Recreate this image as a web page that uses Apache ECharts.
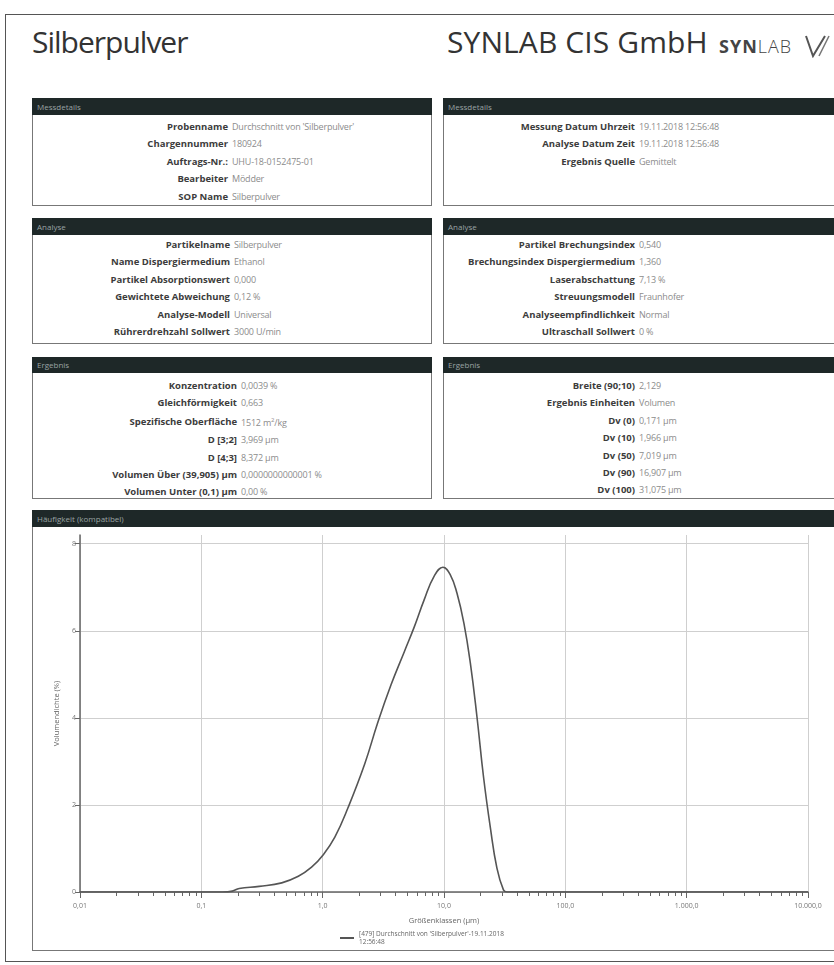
<!DOCTYPE html>
<html>
<head>
<meta charset="utf-8">
<script src="https://cdn.jsdelivr.net/npm/echarts@6/dist/echarts.min.js"></script>
<style>
  html, body { margin: 0; padding: 0; background: #fff; }
  body { width: 834px; height: 965px; position: relative; overflow: hidden; font-family: "Open Sans", "Noto Sans", sans-serif; }
  .frame { position: absolute; left: 5px; top: 14px; width: 900px; height: 946px; border: 1.5px solid #555; }
  .title { position: absolute; top: 21px; font-size: 30px; color: #333; }
  .logo { position: absolute; left: 719px; top: 34px; font-size: 18px; color: #444; letter-spacing: 1px; }
  .logo b { font-weight: 700; }
  .logo span { font-weight: 300; }
  .logo svg { position: absolute; left: 84px; top: 0px; }
  .panel { position: absolute; }
  .head { height: 17px; background: #1e2828; color: #9aa3a3; font-size: 8px; line-height: 17px; padding-left: 5px; }
  .body { position: absolute; left: 0; right: 0; bottom: 0; border: 1px solid #777; border-top: none; background: #fff; }
  table { border-collapse: collapse; font-size: 9.5px; margin-top: 3px; }
  td { padding: 0; height: 17.4px; line-height: 17.4px; white-space: nowrap; }
  td.l { text-align: right; font-weight: 700; color: #3c3c3c; padding-right: 4px; }
  td.v { color: #8c8c8c; font-size: 9px; letter-spacing: -0.2px; }
  #chart { position: absolute; left: 33px; top: 528px; width: 810px; height: 422px; }
</style>
</head>
<body>
<div class="frame"></div>
<div class="title" style="left:32px;letter-spacing:-1px">Silberpulver</div>
<div class="title" style="left:447px;letter-spacing:0.1px">SYNLAB CIS GmbH</div>
<div class="logo"><b>SYN</b><span>LAB</span>
  <svg width="30" height="24" viewBox="0 0 30 24"><path d="M3 2 L10 22 L22 2" fill="none" stroke="#555" stroke-width="2"/><path d="M16 22 L26 2" fill="none" stroke="#777" stroke-width="1.5"/></svg>
</div>

<div class="panel" style="left:32px;top:98px;width:400px;height:108px">
  <div class="head">Messdetails</div>
  <div class="body" style="top:17px"><table>
    <tr><td class="l" style="width:195px">Probenname</td><td class="v">Durchschnitt von 'Silberpulver'</td></tr>
    <tr><td class="l">Chargennummer</td><td class="v">180924</td></tr>
    <tr><td class="l">Auftrags-Nr.:</td><td class="v">UHU-18-0152475-01</td></tr>
    <tr><td class="l">Bearbeiter</td><td class="v">Mödder</td></tr>
    <tr><td class="l">SOP Name</td><td class="v">Silberpulver</td></tr>
  </table></div>
</div>
<div class="panel" style="left:443px;top:98px;width:400px;height:108px">
  <div class="head">Messdetails</div>
  <div class="body" style="top:17px"><table>
    <tr><td class="l" style="width:191px">Messung Datum Uhrzeit</td><td class="v">19.11.2018 12:56:48</td></tr>
    <tr><td class="l">Analyse Datum Zeit</td><td class="v">19.11.2018 12:56:48</td></tr>
    <tr><td class="l">Ergebnis Quelle</td><td class="v">Gemittelt</td></tr>
  </table></div>
</div>

<div class="panel" style="left:32px;top:218px;width:400px;height:126px">
  <div class="head">Analyse</div>
  <div class="body" style="top:17px"><table style="margin-top:1px">
    <tr><td class="l" style="width:197px">Partikelname</td><td class="v">Silberpulver</td></tr>
    <tr><td class="l">Name Dispergiermedium</td><td class="v">Ethanol</td></tr>
    <tr><td class="l">Partikel Absorptionswert</td><td class="v">0,000</td></tr>
    <tr><td class="l">Gewichtete Abweichung</td><td class="v">0,12 %</td></tr>
    <tr><td class="l">Analyse-Modell</td><td class="v">Universal</td></tr>
    <tr><td class="l">Rührerdrehzahl Sollwert</td><td class="v">3000 U/min</td></tr>
  </table></div>
</div>
<div class="panel" style="left:443px;top:218px;width:400px;height:126px">
  <div class="head">Analyse</div>
  <div class="body" style="top:17px"><table style="margin-top:1px">
    <tr><td class="l" style="width:191px">Partikel Brechungsindex</td><td class="v">0,540</td></tr>
    <tr><td class="l">Brechungsindex Dispergiermedium</td><td class="v">1,360</td></tr>
    <tr><td class="l">Laserabschattung</td><td class="v">7,13 %</td></tr>
    <tr><td class="l">Streuungsmodell</td><td class="v">Fraunhofer</td></tr>
    <tr><td class="l">Analyseempfindlichkeit</td><td class="v">Normal</td></tr>
    <tr><td class="l">Ultraschall Sollwert</td><td class="v">0 %</td></tr>
  </table></div>
</div>

<div class="panel" style="left:32px;top:357px;width:400px;height:142px">
  <div class="head" style="height:16px;line-height:16px">Ergebnis</div>
  <div class="body" style="top:16px"><table style="margin-top:4px">
    <tr><td class="l" style="width:204px">Konzentration</td><td class="v">0,0039 %</td></tr>
    <tr><td class="l">Gleichförmigkeit</td><td class="v">0,663</td></tr>
    <tr><td class="l">Spezifische Oberfläche</td><td class="v">1512 m<sup style="font-size:6px">2</sup>/kg</td></tr>
    <tr><td class="l">D [3;2]</td><td class="v">3,969 µm</td></tr>
    <tr><td class="l">D [4;3]</td><td class="v">8,372 µm</td></tr>
    <tr><td class="l">Volumen Über (39,905) µm</td><td class="v">0,0000000000001 %</td></tr>
    <tr><td class="l">Volumen Unter (0,1) µm</td><td class="v">0,00 %</td></tr>
  </table></div>
</div>
<div class="panel" style="left:443px;top:357px;width:400px;height:142px">
  <div class="head" style="height:16px;line-height:16px">Ergebnis</div>
  <div class="body" style="top:16px"><table style="margin-top:4px">
    <tr><td class="l" style="width:191px">Breite (90;10)</td><td class="v">2,129</td></tr>
    <tr><td class="l">Ergebnis Einheiten</td><td class="v">Volumen</td></tr>
    <tr><td class="l">Dv (0)</td><td class="v">0,171 µm</td></tr>
    <tr><td class="l">Dv (10)</td><td class="v">1,966 µm</td></tr>
    <tr><td class="l">Dv (50)</td><td class="v">7,019 µm</td></tr>
    <tr><td class="l">Dv (90)</td><td class="v">16,907 µm</td></tr>
    <tr><td class="l">Dv (100)</td><td class="v">31,075 µm</td></tr>
  </table></div>
</div>

<div class="panel" style="left:32px;top:510px;width:811px;height:441px">
  <div class="head">Häufigkeit (kompatibel)</div>
  <div class="body" style="top:17px"></div>
</div>
<div id="chart"></div>

<script>
// Partikelgrößen (µm) und Volumendichte (%)
const sizes = [0.01, 0.15, 0.18, 0.205, 0.3, 0.46, 0.63, 0.81, 1.0, 1.26, 1.62, 2.22, 2.85, 3.66, 4.71, 5.69, 6.86, 8.28, 9.8, 11.3, 12.8, 14.6, 16.5, 18.7, 21.2, 24.1, 27.3, 30.9, 33, 10000]
const density = [0, 0, 0.02, 0.08, 0.13, 0.21, 0.36, 0.57, 0.84, 1.26, 1.94, 2.94, 3.9, 4.76, 5.52, 6.09, 6.71, 7.25, 7.46, 7.28, 6.86, 6.17, 5.25, 4.02, 2.63, 1.48, 0.55, 0.05, 0, 0]

const decades = [0.01, 0.1, 1, 10, 100, 1000, 10000]
const xTickLabels = ['0,01', '0,1', '1,0', '10,0', '100,0', '1.000,0', '10.000,0']
const yTicks = [0, 2, 4, 6, 8]
const yTickLabels = ['0', '2', '4', '6', '8']
const seriesName = "[479] Durchschnitt von 'Silberpulver'-19.11.2018\n12:56:48"

// Zwischenstriche 2..9 je Dekade, als log10-Position fuer die Hilfsachse
const minorTicks = []
decades.slice(0, -1).forEach(d => {
  for (let k = 2; k <= 9; k++) minorTicks.push(Math.log10(d * k))
})

const chart = echarts.init(document.getElementById('chart'))

const gridColor = '#cfcfcf'
const axisColor = '#666'
const gridTop = 7
const gridBottom = 58
const plotHeight = 422 - gridTop - gridBottom

const option = {
  animation: false,
  textStyle: { fontFamily: 'Open Sans, Noto Sans, sans-serif' },
  grid: { left: 47, right: 35, top: gridTop, bottom: gridBottom },
  legend: {
    left: 302,
    top: 397,
    icon: 'rect',
    itemWidth: 14,
    itemHeight: 2,
    itemGap: 4,
    textStyle: { fontSize: 6.5, color: '#666', lineHeight: 8 },
    data: [seriesName]
  },
  xAxis: [{
    type: 'log',
    logBase: 10,
    min: 0.01,
    max: 10000,
    position: 'bottom',
    name: 'Größenklassen (µm)',
    nameLocation: 'middle',
    nameGap: 25,
    nameTextStyle: { fontSize: 7.5, color: '#666' },
    axisLine: { onZero: false, lineStyle: { color: axisColor, width: 1.5 } },
    axisTick: { length: 6, lineStyle: { color: axisColor } },
    axisLabel: {
      fontSize: 7,
      color: '#777',
      margin: 10,
      formatter: v => xTickLabels[decades.findIndex(d => Math.abs(d - v) / d < 1e-6)]
    },
    splitLine: { show: true, lineStyle: { color: gridColor, width: 1 } }
  }, {
    // Hilfsachse nur fuer die kleinen Striche, von oben an die Grundlinie verschoben
    type: 'value',
    min: -2,
    max: 4,
    position: 'top',
    offset: -plotHeight,
    axisLine: { show: false, onZero: false },
    axisTick: { show: true, inside: true, customValues: minorTicks, length: 4, lineStyle: { color: axisColor } },
    axisLabel: { show: false },
    splitLine: { show: false }
  }],
  yAxis: {
    type: 'value',
    min: 0,
    max: 8.2,
    name: 'Volumendichte (%)',
    nameLocation: 'middle',
    nameGap: 15,
    nameTextStyle: { fontSize: 7.5, color: '#666' },
    axisLine: { show: true, onZero: false, lineStyle: { color: axisColor, width: 1.5 } },
    axisTick: { show: true, customValues: yTicks, length: 5, lineStyle: { color: axisColor } },
    axisLabel: {
      customValues: yTicks,
      fontSize: 7,
      color: '#777',
      margin: 4,
      formatter: v => yTickLabels[yTicks.indexOf(v)]
    },
    splitLine: { show: true, lineStyle: { color: gridColor, width: 1 } }
  },
  series: [{
    name: seriesName,
    type: 'line',
    xAxisIndex: 0,
    data: sizes.map((s, i) => [s, density[i]]),
    smooth: 0.45,
    showSymbol: false,
    lineStyle: { color: '#555', width: 1.6 },
    itemStyle: { color: '#555' }
  }]
}

chart.setOption(option)
</script>
</body>
</html>
